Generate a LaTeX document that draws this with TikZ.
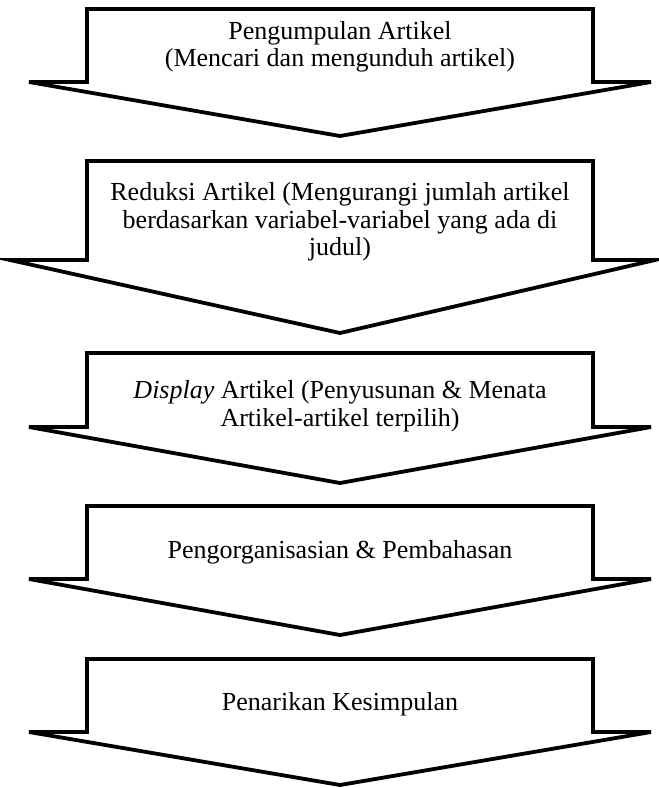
\documentclass[tikz,border=0pt]{standalone}
\usepackage{fontspec}
\setmainfont{Liberation Serif}
\usetikzlibrary{positioning}

\tikzset{
    panah/.style={draw=black, line width=3.8pt, line join=miter, fill=white},
    teks/.style={align=center, font=\fontsize{26}{27.5}\selectfont, inner sep=0pt}
}

\begin{document}
\begin{tikzpicture}[x=1pt, y=-1pt]
    \useasboundingbox (0,0) rectangle (659,788);
    % lima panah ke bawah
    \draw[panah] (87,9) -- (593,9) -- (593,82) -- (651,82) -- (340,136) -- (29,82) -- (87,82) -- cycle;
    \draw[panah] (87,161) -- (593,161) -- (593,260) -- (655,260) -- (340,333) -- (10,260) -- (87,260) -- cycle;
    \draw[panah] (87,353) -- (593,353) -- (593,427) -- (651,427) -- (340,483) -- (29,427) -- (87,427) -- cycle;
    \draw[panah] (87,506) -- (593,506) -- (593,579) -- (651,579) -- (340,635) -- (29,579) -- (87,579) -- cycle;
    \draw[panah] (87,659) -- (593,659) -- (593,732) -- (651,732) -- (340,785) -- (29,732) -- (87,732) -- cycle;
    % teks
    \node[teks] (pengumpulan) at (340,47) {Pengumpulan Artikel\\(Mencari dan mengunduh artikel)};
    \node[teks] (reduksi) at (340,222) {Reduksi Artikel (Mengurangi jumlah artikel\\berdasarkan variabel-variabel yang ada di\\judul)};
    \node[teks] (tampilan) at (340,406) {\textit{Display} Artikel (Penyusunan \& Menata\\Artikel-artikel terpilih)};
    \node[teks] (organisasi) at (340,552) {Pengorganisasian \& Pembahasan};
    \node[teks] (kesimpulan) at (340,704) {Penarikan Kesimpulan};
\end{tikzpicture}
\end{document}
